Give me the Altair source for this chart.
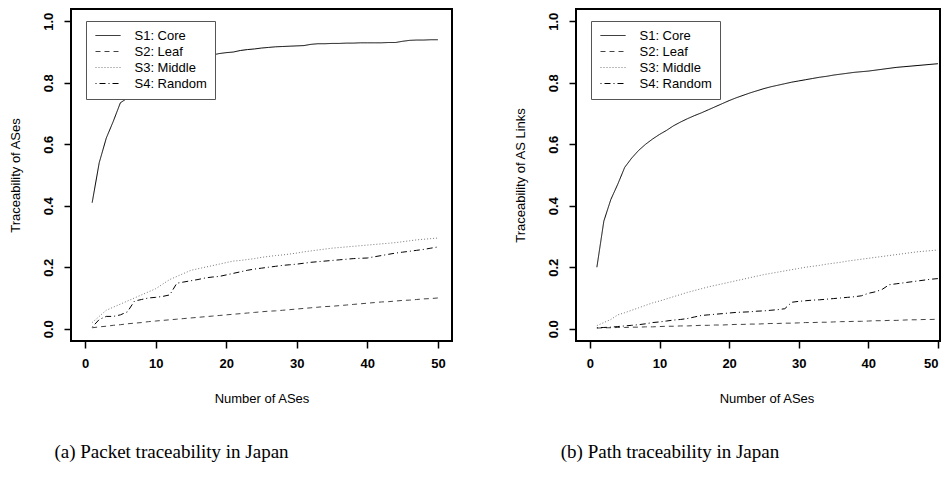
import altair as alt
import pandas as pd

x_vals = list(range(1, 51))
series_names = ["S1: Core", "S2: Leaf", "S3: Middle", "S4: Random"]

# (a) Packet traceability (Traceability of ASes)
pkt_core = [0.41, 0.54, 0.62, 0.675, 0.735, 0.75, 0.77, 0.785, 0.80, 0.815,
            0.825, 0.835, 0.85, 0.86, 0.87, 0.88, 0.885, 0.89, 0.895, 0.898,
            0.90, 0.905, 0.908, 0.91, 0.913, 0.915, 0.917, 0.918, 0.919, 0.92,
            0.921, 0.925, 0.927, 0.927, 0.928, 0.928, 0.929, 0.929, 0.93, 0.93,
            0.93, 0.93, 0.931, 0.931, 0.935, 0.938, 0.939, 0.939, 0.94, 0.94]
pkt_leaf = [0.003, 0.006, 0.008, 0.011, 0.013, 0.016, 0.018, 0.02, 0.023, 0.025,
            0.027, 0.029, 0.031, 0.033, 0.035, 0.037, 0.039, 0.041, 0.043, 0.045,
            0.047, 0.049, 0.051, 0.053, 0.055, 0.057, 0.058, 0.06, 0.062, 0.064,
            0.066, 0.068, 0.07, 0.072, 0.073, 0.075, 0.077, 0.079, 0.081, 0.083,
            0.085, 0.087, 0.088, 0.09, 0.092, 0.093, 0.095, 0.097, 0.098, 0.1]
pkt_middle = [0.02, 0.04, 0.06, 0.07, 0.08, 0.09, 0.10, 0.11, 0.12, 0.13,
              0.145, 0.16, 0.17, 0.18, 0.19, 0.195, 0.20, 0.205, 0.21, 0.215,
              0.22, 0.222, 0.225, 0.228, 0.232, 0.235, 0.238, 0.24, 0.243, 0.246,
              0.25, 0.253, 0.256, 0.259, 0.262, 0.264, 0.266, 0.268, 0.27, 0.272,
              0.274, 0.276, 0.278, 0.28, 0.283, 0.286, 0.289, 0.291, 0.293, 0.295]
pkt_random = [0.005, 0.03, 0.04, 0.04, 0.045, 0.055, 0.09, 0.095, 0.10, 0.102,
              0.105, 0.11, 0.148, 0.152, 0.156, 0.16, 0.165, 0.168, 0.17, 0.175,
              0.18, 0.185, 0.19, 0.194, 0.197, 0.2, 0.203, 0.206, 0.208, 0.21,
              0.213, 0.216, 0.218, 0.22, 0.222, 0.224, 0.226, 0.228, 0.229, 0.23,
              0.234, 0.238, 0.242, 0.246, 0.249, 0.252, 0.255, 0.258, 0.262, 0.266]

# (b) Path traceability (Traceability of AS Links)
path_core = [0.20, 0.35, 0.42, 0.47, 0.525, 0.555, 0.58, 0.60, 0.617, 0.632,
             0.645, 0.66, 0.672, 0.683, 0.693, 0.702, 0.712, 0.722, 0.732, 0.742,
             0.751, 0.759, 0.767, 0.774, 0.781, 0.787, 0.792, 0.797, 0.802, 0.806,
             0.81, 0.814, 0.818, 0.821, 0.825, 0.828, 0.831, 0.834, 0.836, 0.838,
             0.841, 0.844, 0.847, 0.85, 0.852, 0.854, 0.856, 0.858, 0.86, 0.862]
path_leaf = [0.002, 0.003, 0.003, 0.004, 0.004, 0.005, 0.005, 0.006, 0.006, 0.007,
             0.008, 0.008, 0.009, 0.009, 0.01, 0.011, 0.011, 0.012, 0.012, 0.013,
             0.014, 0.014, 0.015, 0.015, 0.016, 0.017, 0.017, 0.018, 0.018, 0.019,
             0.02, 0.02, 0.021, 0.021, 0.022, 0.023, 0.023, 0.024, 0.024, 0.025,
             0.026, 0.026, 0.027, 0.027, 0.028, 0.029, 0.029, 0.03, 0.03, 0.031]
path_middle = [0.01, 0.02, 0.03, 0.045, 0.052, 0.06, 0.068, 0.076, 0.084, 0.09,
               0.097, 0.104, 0.111, 0.118, 0.124, 0.13, 0.136, 0.141, 0.146, 0.151,
               0.156, 0.161, 0.166, 0.171, 0.176, 0.18, 0.184, 0.188, 0.192, 0.196,
               0.2, 0.203, 0.206, 0.21, 0.213, 0.216, 0.22, 0.223, 0.226, 0.229,
               0.232, 0.235, 0.238, 0.241, 0.244, 0.247, 0.25, 0.252, 0.254, 0.256]
path_random = [0.003, 0.004, 0.005, 0.007, 0.009, 0.011, 0.013, 0.016, 0.02, 0.022,
               0.025, 0.028, 0.03, 0.033, 0.038, 0.043, 0.045, 0.047, 0.049, 0.051,
               0.053, 0.054, 0.055, 0.057, 0.058, 0.06, 0.062, 0.065, 0.086, 0.089,
               0.091, 0.093, 0.094, 0.096, 0.098, 0.1, 0.102, 0.104, 0.107, 0.115,
               0.12, 0.128, 0.143, 0.146, 0.149, 0.152, 0.155, 0.158, 0.161, 0.163]

x_ticks = [0, 10, 20, 30, 40, 50]
y_ticks = [0.0, 0.2, 0.4, 0.6, 0.8, 1.0]

line_colors = ["#000000", "#444444", "#777777", "#000000"]
line_dashes = [[1, 0], [5, 4], [1, 2], [1, 3, 6, 3]]
line_widths = [1, 1, 1, 2]


def long_frame(series_list):
    rows = []
    for name, vals in zip(series_names, series_list):
        for x, y in zip(x_vals, vals):
            rows.append({"n": x, "value": y, "series": name})
    return pd.DataFrame(rows)


def panel(df, ytitle, caption, cap_dx, width, x_max):
    leg = alt.Legend(
        orient="none", legendX=15, legendY=12, title=None,
        symbolType="M-2.5,0L2.5,0", symbolSize=100, symbolOffset=7.5,
        labelOffset=20,
        labelFontSize=13, labelFont="Liberation Sans", labelColor="black",
        padding=8, rowPadding=2, strokeColor="#555555", fillColor="white",
    )
    return alt.Chart(df).mark_line().encode(
        x=alt.X("n:Q",
                scale=alt.Scale(domain=[-2, x_max], nice=False, zero=False),
                axis=alt.Axis(values=x_ticks, title="Number of ASes",
                              labelPadding=9, labelAngle=0, labelFlush=8,
                              titleX=190.5,
                              titleY=57, titleBaseline="middle", titleAlign="center")),
        y=alt.Y("value:Q",
                scale=alt.Scale(domain=[-0.04, 1.04], nice=False, zero=False),
                axis=alt.Axis(values=y_ticks, format=".1f", title=ytitle,
                              labelAngle=270, labelAlign="center",
                              labelBaseline="alphabetic", labelPadding=12,
                              labelFlush=False,
                              titleX=-56, titleY=166, titleAngle=270,
                              titleAlign="center", titleBaseline="middle")),
        color=alt.Color("series:N", scale=alt.Scale(domain=series_names, range=line_colors), legend=leg),
        strokeDash=alt.StrokeDash("series:N", scale=alt.Scale(domain=series_names, range=line_dashes), legend=leg),
        strokeWidth=alt.StrokeWidth("series:N", scale=alt.Scale(domain=series_names, range=line_widths), legend=leg),
    ).properties(
        width=width, height=332,
        title=alt.TitleParams(text=caption, orient="bottom", anchor="middle",
                              frame="group", dx=cap_dx, offset=38,
                              font="Liberation Serif", fontSize=19,
                              fontWeight="normal", color="black"),
    )


left = panel(long_frame([pkt_core, pkt_leaf, pkt_middle, pkt_random]),
             "Traceability of ASes", "(a) Packet traceability in Japan", -90,
             381, 52)
right = panel(long_frame([path_core, path_leaf, path_middle, path_random]),
              "Traceability of AS Links", "(b) Path traceability in Japan", -88,
              364, 50.3)

chart = alt.hconcat(left, right, spacing=60).resolve_scale(
    color="independent", strokeDash="independent", strokeWidth="independent"
).resolve_legend(
    color="independent", strokeDash="independent", strokeWidth="independent"
).properties(
    padding={"left": 0, "top": 0, "right": 0, "bottom": 0}
).configure_view(
    stroke="black", strokeWidth=2
).configure_axis(
    labelFont="Liberation Sans", labelFontWeight="bold", labelFontSize=13,
    labelColor="black", tickColor="black", tickWidth=1.5, tickSize=7,
    domain=False, grid=False, titleFont="Liberation Sans", titleFontSize=13,
    titleFontWeight="normal", titleColor="black",
)

chart.save("out.html", embed_options={"renderer": "svg", "actions": False})
